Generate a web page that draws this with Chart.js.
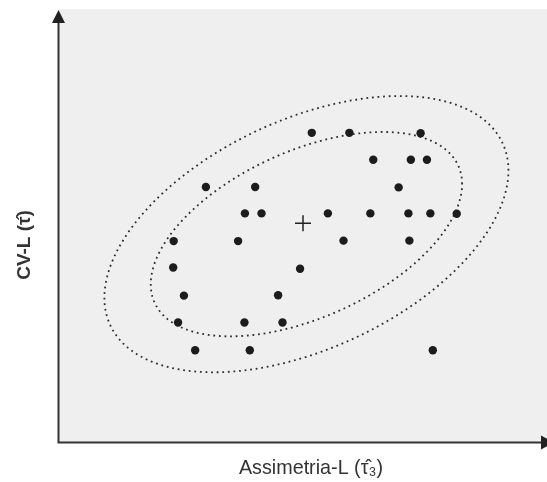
<!DOCTYPE html>
<html>
<head>
<meta charset="utf-8">
<script src="https://cdn.jsdelivr.net/npm/chart.js@4/dist/chart.umd.min.js"></script>
<style>
  body { margin: 0; background: #fff; }
  canvas { display: block; }
</style>
</head>
<body>
<canvas id="lmoments" width="547" height="482"></canvas>
<script>
// Sites: L-skewness (x) and L-CV (y), schematic units 0-100
const skewValues = [51.8, 59.5, 74.1, 64.4, 72.1, 75.4, 30.1, 40.2, 69.6, 38.1,
    41.5, 55.1, 63.8, 71.6, 76.1, 81.5, 23.5, 36.7, 58.3, 71.8,
    23.4, 49.4, 25.6, 44.9, 24.4, 38.0, 45.8, 27.9, 39.1, 76.6];
const cvValues = [71.4, 71.4, 71.3, 65.2, 65.2, 65.2, 58.9, 58.9, 58.8, 52.8,
    52.8, 52.8, 52.8, 52.8, 52.8, 52.7, 46.4, 46.4, 46.5, 46.5,
    40.3, 40.0, 33.8, 33.9, 27.6, 27.6, 27.6, 21.2, 21.2, 21.2];

// Regional mean (+)
const meanPoint = [50.0, 50.5];

// Dotted ellipses: [centerX, centerY, halfWidthX, halfHeightY, correlation]
const innerEllipse = [50.7, 48.0, 31.9, 23.6, 0.49];
const outerEllipse = [50.7, 48.0, 41.4, 31.9, 0.46];

const xTitle = 'Assimetria-L (\u03C4\u0302\u2083)';
const yTitle = 'CV-L (\u03C4\u0302)';

const points = skewValues.map((x, i) => ({ x: x, y: cvValues[i] }));

const framePlugin = {
    id: 'frame',
    beforeDraw(chart) {
        const { ctx, chartArea: a } = chart;
        ctx.save();
        ctx.fillStyle = '#efefef';
        ctx.fillRect(a.left, a.top, chart.width - a.left, a.bottom - a.top);
        ctx.restore();
    },
    beforeDatasetsDraw(chart) {
        const { ctx, scales } = chart;
        ctx.save();
        ctx.strokeStyle = '#2e2e2e';
        ctx.lineWidth = 1.8;
        ctx.setLineDash([1.8, 3.8]);
        [innerEllipse, outerEllipse].forEach(e => {
            const [cx, cy, sx, sy, rho] = e;
            ctx.beginPath();
            for (let k = 0; k <= 360; k++) {
                const t = k * Math.PI / 180;
                const x = cx + sx * Math.cos(t);
                const y = cy + sy * (rho * Math.cos(t) + Math.sqrt(1 - rho * rho) * Math.sin(t));
                const px = scales.x.getPixelForValue(x);
                const py = scales.y.getPixelForValue(y);
                if (k === 0) ctx.moveTo(px, py); else ctx.lineTo(px, py);
            }
            ctx.stroke();
        });
        ctx.restore();
    },
    afterDraw(chart) {
        const { ctx, chartArea: a } = chart;
        ctx.save();
        // axes with arrows
        ctx.strokeStyle = '#333';
        ctx.fillStyle = '#222';
        ctx.lineWidth = 2;
        ctx.beginPath();
        ctx.moveTo(a.left - 0.5, a.bottom + 1);
        ctx.lineTo(a.left - 0.5, a.top + 12);
        ctx.moveTo(a.left - 1.5, a.bottom + 0.5);
        ctx.lineTo(chart.width - 6, a.bottom + 0.5);
        ctx.stroke();
        ctx.beginPath();
        ctx.moveTo(a.left - 0.5, a.top + 1);
        ctx.lineTo(a.left - 7, a.top + 14);
        ctx.lineTo(a.left + 6, a.top + 14);
        ctx.closePath();
        ctx.fill();
        ctx.beginPath();
        ctx.moveTo(chart.width + 7, a.bottom + 0.5);
        ctx.lineTo(chart.width - 6, a.bottom - 6.5);
        ctx.lineTo(chart.width - 6, a.bottom + 7.5);
        ctx.closePath();
        ctx.fill();

        // axis titles
        ctx.fillStyle = '#333';
        ctx.textAlign = 'center';
        ctx.textBaseline = 'alphabetic';
        ctx.save();
        ctx.translate(311, 474);
        ctx.scale(0.94, 1);
        ctx.font = '21px "Liberation Sans", Arial, sans-serif';
        ctx.fillText(xTitle, 0, 0);
        ctx.restore();
        ctx.translate(30, 245);
        ctx.rotate(-Math.PI / 2);
        ctx.font = 'bold 19px "Liberation Sans", Arial, sans-serif';
        ctx.fillText(yTitle, 0, 0);
        ctx.restore();
    }
};

const ctx = document.getElementById('lmoments').getContext('2d');
new Chart(ctx, {
    type: 'scatter',
    data: {
        datasets: [{
            label: 'Sites',
            data: points,
            pointRadius: 4.2,
            pointBackgroundColor: '#1c1c1c',
            pointBorderWidth: 0
        }, {
            label: 'Mean',
            data: [{ x: meanPoint[0], y: meanPoint[1] }],
            pointStyle: 'cross',
            pointRadius: 8,
            pointBorderColor: '#222',
            pointBorderWidth: 1.5
        }]
    },
    options: {
        responsive: false,
        animation: false,
        layout: { autoPadding: false, padding: { left: 59, right: 0, top: 9, bottom: 40 } },
        plugins: { legend: { display: false }, tooltip: { enabled: false } },
        scales: {
            x: { display: false, min: 0, max: 100 },
            y: { display: false, min: 0, max: 100 }
        }
    },
    plugins: [framePlugin]
});
</script>
</body>
</html>
